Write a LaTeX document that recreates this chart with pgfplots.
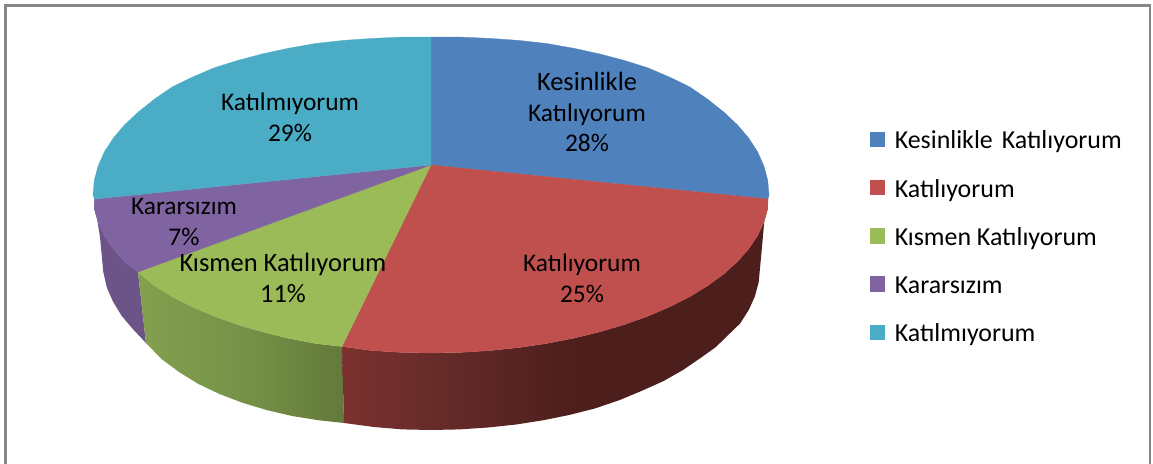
\documentclass[border=0pt]{standalone}
\usepackage{fontspec}
\usepackage{pgfplots}
\pgfplotsset{compat=1.18}
\setmainfont{Carlito}
\definecolor{cBlue}{HTML}{4F81BD}
\definecolor{cRed}{HTML}{C0504D}
\definecolor{cGreen}{HTML}{9BBB59}
\definecolor{cPurple}{HTML}{8064A2}
\definecolor{cTeal}{HTML}{4BACC6}
\definecolor{cFrame}{HTML}{868686}
\pgfdeclarehorizontalshading{redwall}{100bp}{rgb(0bp)=(0.486,0.192,0.184);rgb(25bp)=(0.486,0.192,0.184);rgb(38bp)=(0.384,0.165,0.157);rgb(53bp)=(0.298,0.118,0.110);rgb(100bp)=(0.298,0.118,0.110)}
\pgfdeclarehorizontalshading{greenwall}{100bp}{rgb(0bp)=(0.514,0.627,0.310);rgb(25bp)=(0.514,0.627,0.310);rgb(50bp)=(0.463,0.573,0.282);rgb(75bp)=(0.388,0.478,0.227);rgb(100bp)=(0.388,0.478,0.227)}
\pgfplotsset{
  legsq/.style={legend image code/.code={\fill[##1] (0bp,-2.8bp) rectangle (14.6bp,11.8bp);\path (25bp,0bp);}},
}
\begin{document}
\begin{tikzpicture}
\path[use as bounding box] (0,0) rectangle (1153bp,464bp);
\begin{axis}[
  at={(0,0)}, anchor=south west,
  scale only axis, width=1153bp, height=464bp,
  xmin=0, xmax=1153, ymin=0, ymax=464, y dir=reverse,
  hide axis, clip=false,
  legsq,
  legend cell align=left,
  legend style={draw=none, fill=none, at={(axis cs:869.5,131.5)}, anchor=north west,
    inner sep=0pt, outer sep=0pt, row sep=24.8bp,
    font=\fontsize{26}{26}\selectfont,
    nodes={inner sep=0pt, outer sep=0pt, text height=17bp, text depth=6bp}},
]
% frame
\addplot[forget plot, color=cFrame, line width=2.2bp] coordinates {(5.5,464)(5.5,5.5)(1150,5.5)(1150,464)};
% side walls
\addplot[forget plot, draw=none, fill=cPurple!84!black] coordinates {
(94.3,199)(94.3,208.8)(98.1,222.4)(104.5,235.9)(113.4,249)(124.7,261.8)(138,272)(146,343)(132.8,329)(121.8,316)(113.2,302)(107,288)(103.3,272)(100,237)(96.5,215)};
\addplot[forget plot, draw=none, shade, shading=greenwall] coordinates {
(138,272)(154.1,285.6)(172.1,296.6)(192,306.7)(213.7,316)(237.1,324.4)(262,331.8)(288.2,338.2)(315.4,343.5)(342,346.5)(344,423)(318.5,420.2)(292,416)(266.5,410)(242.3,402.7)(219.5,394)(198.4,384)(179,372)(161.5,359)(146,343)};
\addplot[forget plot, draw=none, shade, shading=redwall] coordinates {
(342,346.5)(372.3,350.6)(401.5,352.4)(431,353)(460.5,352.4)(489.7,350.6)(518.5,347.6)(546.6,343.5)(573.8,338.2)(600,331.8)(624.9,324.4)(648.3,316)(670,306.7)(689.9,296.6)(707.9,285.6)(723.7,274)(737.3,261.8)(748.6,249)(757.5,235.9)(763.9,222.4)(767.7,208.8)(768,199)
(765,213)(762,247)(758.7,282.1)(755,296.1)(748.8,309.9)(740.2,323.4)(729.2,334)(715.9,347)(700.5,358)(683,370)(663.6,381)(642.5,390.5)(619.7,400)(595.5,408.3)(570,414.8)(543.5,420.2)(516.2,424.5)(488.1,427.5)(459.7,429.4)(431,430)(402.3,429.4)(373.9,427)(344,423)};
% top faces
\addplot[draw=cBlue, line width=0.3bp, fill=cBlue] coordinates {
(431,165)(431,37)(460.5,37.1)(489.7,38.4)(518.5,40.4)(546.6,43.5)(573.8,48.3)(600,54)(624.9,60.6)(648.3,68)(670,77.3)(689.9,87)(707.9,99.4)(723.7,112)(737.3,124.7)(748.6,138)(757.5,151.6)(763.9,166)(767.7,180.2)(769,195)(768,199)(431,165)};
\addplot[draw=cRed, line width=0.3bp, fill=cRed] coordinates {
(431,165)(768,199)(767.7,208.8)(763.9,222.4)(757.5,235.9)(748.6,249)(737.3,261.8)(723.7,274)(707.9,285.6)(689.9,296.6)(670,306.7)(648.3,316)(624.9,324.4)(600,331.8)(573.8,338.2)(546.6,343.5)(518.5,347.6)(489.7,350.6)(460.5,352.4)(431,353)(401.5,352.4)(372.3,350.6)(342,346.5)(431,165)};
\addplot[draw=cGreen, line width=0.3bp, fill=cGreen] coordinates {
(431,165)(342,346.5)(315.4,343.5)(288.2,338.2)(262,331.8)(237.1,324.4)(213.7,316)(192,306.7)(172.1,296.6)(154.1,285.6)(138,272)(431,165)};
\addplot[draw=cPurple, line width=0.3bp, fill=cPurple] coordinates {
(431,165)(138,272)(124.7,261.8)(113.4,249)(104.5,235.9)(98.1,222.4)(94.3,208.8)(94.5,199)(431,165)};
\addplot[draw=cTeal, line width=0.3bp, fill=cTeal] coordinates {
(431,165)(94.5,199)(93,195)(94.3,180.2)(98.1,166)(104.5,151.6)(113.4,138)(124.7,124.7)(138.3,112)(154.1,99.4)(172.1,87)(192,77.3)(213.7,68)(237.1,60.6)(262,54)(288.2,48.3)(315.4,43.5)(343.5,40.4)(372.3,38.4)(401.5,37.1)(431,37)(431,165)};
\legend{Kesinlikle\hspace{9bp}Katılıyorum,Katılıyorum,Kısmen Katılıyorum,Kararsızım,Katılmıyorum}
% labels
\begin{scope}[every node/.style={font=\fontsize{25.5}{31}\selectfont, align=center, inner sep=0pt, text=black}]
\node at (axis cs:587,112) {{\fontsize{26.5}{31}\selectfont Kesinlikle}\\Katılıyorum\\28\%};
\node at (axis cs:582,278) {Katılıyorum\\25\%};
\node[font=\fontsize{26.6}{31}\selectfont] at (axis cs:283,278) {Kısmen Katılıyorum\\11\%};
\node at (axis cs:184,222) {Kararsızım\\7\%};
\node at (axis cs:290,117) {Katılmıyorum\\29\%};
\end{scope}
\end{axis}
\end{tikzpicture}
\end{document}
